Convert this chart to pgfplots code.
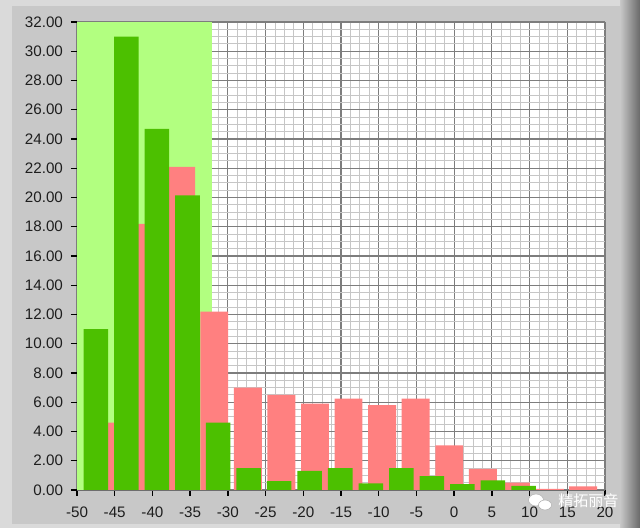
\documentclass[border=0pt]{standalone}
\usepackage{pgfplots}
\pgfplotsset{compat=1.18}
\usepackage{fontspec}
\setmainfont{Liberation Sans}
\newfontfamily\cjk{Noto Sans CJK SC}

\definecolor{frameout}{RGB}{218,218,218}
\definecolor{framein}{RGB}{200,200,200}
\definecolor{frameshadow}{RGB}{105,105,105}
\definecolor{zonegreen}{RGB}{178,255,128}
\definecolor{bargreen}{RGB}{76,192,0}
\definecolor{barpink}{RGB}{255,128,128}
\definecolor{gridmajor}{RGB}{125,125,125}
\definecolor{gridminor}{RGB}{198,198,198}
\definecolor{axisline}{RGB}{110,110,110}
\definecolor{labeltext}{RGB}{30,30,30}

\begin{document}
\begin{tikzpicture}[x=0.75pt,y=0.75pt]
% panel
\fill[frameout] (0,0) rectangle (640,528);
\fill[framein] (12,4) rectangle (620,522);
\shade[left color=framein, right color=frameshadow] (620,0) rectangle (640,528);

\begin{axis}[
    at={(57.75pt,28.5pt)}, anchor=south west,
    scale only axis,
    width=396pt, height=351pt,
    xmin=-50, xmax=20, ymin=0, ymax=32,
    xtick={-50,-45,...,20},
    ytick={0,2,...,32},
    minor x tick num=3,
    minor y tick num=3,
    grid=both,
    major grid style={draw=gridmajor, line width=0.8pt},
    minor grid style={draw=gridminor, line width=0.7pt},
    axis background/.style={fill=white},
    axis x line*=bottom,
    axis y line*=left,
    axis line style={draw=axisline, line width=0.6pt, -},
    tick align=outside,
    major tick length=4.5pt,
    minor tick length=0pt,
    tick style={draw=black, line width=1pt},
    /pgf/number format/assume math mode=true,
    ticklabel style={font=\fontsize{11.4}{13}\selectfont, text=labeltext},
    yticklabel style={xshift=-2.5pt, /pgf/number format/.cd, fixed, fixed zerofill, precision=2},
    xticklabel style={yshift=-5pt, /pgf/number format/.cd, fixed},
]
% highlighted zone
\addplot[fill=zonegreen, draw=none] coordinates {(-50,0) (-32.1,0) (-32.1,32) (-50,32)} -- cycle;

% pink histogram
\addplot[ybar, bar width=3.7, bar shift=0pt, fill=barpink, draw=none] coordinates {
    (-45.1,4.6) (-40.65,18.2) (-36.2,22.1) (-31.8,12.2) (-27.35,7.0)
    (-22.9,6.5) (-18.45,5.9) (-14.0,6.25) (-9.55,5.8) (-5.1,6.25)
    (-0.65,3.05) (3.8,1.45) (8.2,0.5) (12.7,0.08) (17.1,0.25)
};

% green histogram
\addplot[ybar, bar width=3.25, bar shift=0pt, fill=bargreen, draw=none] coordinates {
    (-47.5,11.0) (-43.45,31.0) (-39.4,24.7) (-35.35,20.15) (-31.3,4.6)
    (-27.25,1.5) (-23.2,0.6) (-19.15,1.3) (-15.1,1.5) (-11.05,0.45)
    (-7.0,1.5) (-2.95,0.95) (1.1,0.4) (5.15,0.65) (9.2,0.28)
};
\end{axis}

% watermark
\fill[white, draw=gray!60, line width=0.4pt] (536,28) ellipse (7.5 and 6);
\fill[white, draw=gray!60, line width=0.4pt] (545,23) ellipse (6.5 and 5);
\node[font=\cjk\fontsize{11.3}{12}\selectfont, text=white, inner sep=0pt, anchor=west] at (558,27) {精拓丽音};
\end{tikzpicture}
\end{document}
